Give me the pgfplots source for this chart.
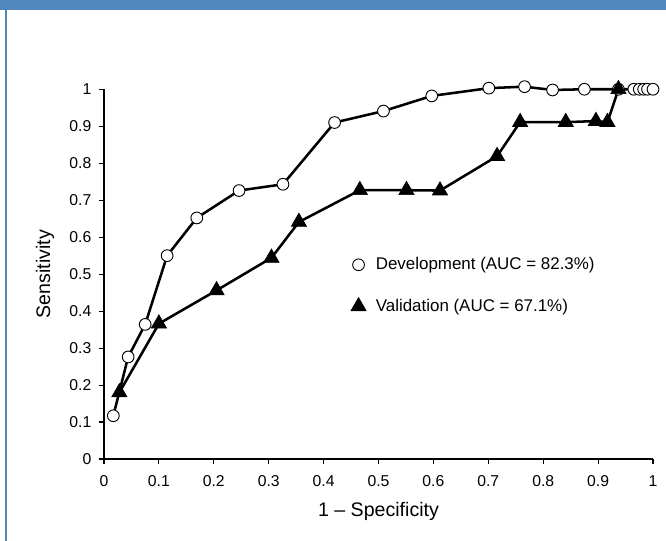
\documentclass[border=0pt]{standalone}
\usepackage{fontspec}
\setmainfont{Liberation Sans}
\usepackage{pgfplots}
\pgfplotsset{compat=1.18}
\definecolor{framebl}{HTML}{5288BB}

\begin{document}
\begin{tikzpicture}
\path[use as bounding box] (0,0) rectangle (499.5pt,405.75pt);
\fill[framebl] (0,398.25pt) rectangle (499.5pt,405.75pt);
\fill[framebl] (3.75pt,0) rectangle (5.5pt,398.25pt);
\begin{axis}[
    at={(78pt,61.5pt)},
    anchor=origin,
    scale only axis,
    width=411.75pt,
    height=277.3pt,
    xmin=0, xmax=1,
    ymin=0, ymax=1,
    axis lines*=left,
    axis line style={line width=0.8pt,-},
    xtick={0,0.1,...,1},
    ytick={0,0.1,...,1},
    xticklabels={0,0.1,0.2,0.3,0.4,0.5,0.6,0.7,0.8,0.9,1},
    yticklabels={0,0.1,0.2,0.3,0.4,0.5,0.6,0.7,0.8,0.9,1},
    tick align=outside,
    major tick length=4pt,
    tick style={line width=0.8pt,black},
    ticklabel style={font=\fontsize{11.8}{13}\selectfont},
    xticklabel style={yshift=-5pt},
    yticklabel style={xshift=-2pt},
    /pgf/number format/assume math mode=true,
    xlabel={1 – Specificity},
    ylabel={Sensitivity},
    label style={font=\fontsize{14.7}{17}\selectfont},
    xlabel style={at={(axis description cs:0.5,-0.143)}, anchor=center},
    ylabel style={at={(axis description cs:-0.1075,0.5)}, anchor=center},
    clip=false,
    legend style={draw=none, fill=none, at={(0.439,0.469)}, anchor=west,
        font=\fontsize{12.7}{15}\selectfont, row sep=16.5pt,
        legend cell align=left},
    legend image code/.code={\path (0pt,0pt) (16pt,0pt);
        \draw[#1, only marks] plot coordinates {(6pt,0pt)};},
]
\addplot[black, line width=1.9pt, mark=*, mark size=4.4pt,
    mark options={fill=white, draw=black, line width=0.7pt}] coordinates {
    (0.017,0.117) (0.044,0.276) (0.075,0.364) (0.115,0.550) (0.169,0.652)
    (0.246,0.726) (0.326,0.743) (0.420,0.910) (0.509,0.941) (0.597,0.982)
    (0.701,1.003) (0.766,1.007) (0.817,0.998) (0.875,1.000) (0.937,1.000)
    (0.965,1.000) (0.975,1.000) (0.983,1.000) (0.990,1.000) (1.000,1.000)
};
\addlegendentry{Development (AUC = 82.3\%)}
\addplot[black, line width=1.9pt, mark=triangle*, mark size=6.6pt,
    mark options={fill=black, draw=black, line width=0.5pt}] coordinates {
    (0.028,0.180) (0.100,0.366) (0.205,0.456) (0.305,0.544) (0.355,0.641)
    (0.466,0.727) (0.551,0.727) (0.612,0.726) (0.716,0.819) (0.758,0.911)
    (0.841,0.911) (0.896,0.914) (0.917,0.911) (0.937,1.000)
};
\addlegendentry{Validation (AUC = 67.1\%)}
\end{axis}
\end{tikzpicture}
\end{document}
